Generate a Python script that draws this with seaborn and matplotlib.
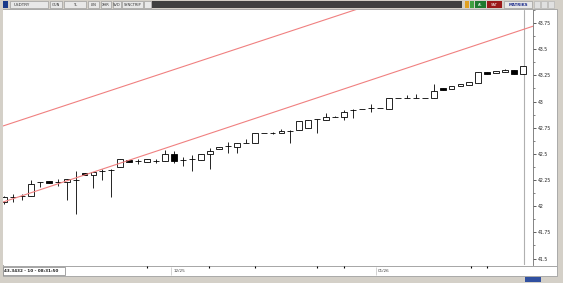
import numpy as np
import pandas as pd
import matplotlib
matplotlib.use("Agg")
import matplotlib.pyplot as plt
import matplotlib.patches as mpatches
import seaborn as sns

# ---------------- data ----------------
symbol = "USDTRY"
last_info = "43.3432 - 10 - 08:31:50"
opens = [42.04, 42.09, 42.10, 42.10, 42.23, 42.24, 42.23, 42.23, 42.25, 42.32,
         42.30, 42.34, 42.35, 42.37, 42.44, 42.43, 42.42, 42.43, 42.43, 42.50,
         42.44, 42.45, 42.44, 42.50, 42.55, 42.58, 42.57, 42.60, 42.60, 42.70,
         42.70, 42.70, 42.72, 42.73, 42.75, 42.83, 42.82, 42.85, 42.85, 42.92,
         42.93, 42.94, 42.94, 42.93, 43.03, 43.03, 43.03, 43.03, 43.03, 43.13,
         43.12, 43.15, 43.16, 43.18, 43.28, 43.27, 43.28, 43.30, 43.26]
closes = [42.09, 42.09, 42.10, 42.21, 42.23, 42.22, 42.23, 42.26, 42.25, 42.30,
          42.33, 42.34, 42.35, 42.45, 42.42, 42.43, 42.45, 42.43, 42.50, 42.43,
          42.44, 42.45, 42.50, 42.53, 42.57, 42.58, 42.60, 42.60, 42.70, 42.70,
          42.70, 42.72, 42.72, 42.81, 42.82, 42.83, 42.85, 42.85, 42.90, 42.92,
          42.93, 42.94, 42.94, 43.03, 43.03, 43.03, 43.03, 43.03, 43.10, 43.11,
          43.15, 43.17, 43.19, 43.28, 43.26, 43.29, 43.30, 43.26, 43.3432]
highs = [42.10, 42.12, 42.12, 42.25, 42.23, 42.24, 42.26, 42.26, 42.34, 42.32,
         42.33, 42.36, 42.36, 42.45, 42.44, 42.45, 42.45, 42.45, 42.54, 42.53,
         42.47, 42.49, 42.50, 42.56, 42.57, 42.61, 42.60, 42.64, 42.70, 42.70,
         42.71, 42.74, 42.73, 42.81, 42.82, 42.83, 42.89, 42.86, 42.92, 42.93,
         42.93, 42.98, 42.94, 43.03, 43.03, 43.06, 43.07, 43.03, 43.17, 43.13,
         43.15, 43.17, 43.19, 43.28, 43.28, 43.29, 43.31, 43.30, 43.3432]
lows = [42.02, 42.04, 42.06, 42.10, 42.18, 42.22, 42.19, 42.06, 41.93, 42.30,
        42.17, 42.25, 42.09, 42.37, 42.42, 42.40, 42.42, 42.41, 42.43, 42.41,
        42.38, 42.34, 42.44, 42.36, 42.55, 42.51, 42.51, 42.60, 42.60, 42.70,
        42.69, 42.70, 42.60, 42.73, 42.75, 42.70, 42.82, 42.85, 42.82, 42.84,
        42.93, 42.90, 42.94, 42.93, 43.03, 43.03, 43.03, 43.03, 43.03, 43.11,
        43.12, 43.15, 43.16, 43.18, 43.26, 43.27, 43.28, 43.26, 43.26]

# channel trend lines (candle index, price)
trend_idx = [-0.45, 59.1]
lower_trend = [42.03, 43.72]
upper_trend = [42.757, 44.437]

y_ticks = [41.5, 41.75, 42.0, 42.25, 42.5, 42.75, 43.0, 43.25, 43.5, 43.75]
y_tick_labels = ["41.5", "41.75", "42", "42.25", "42.5", "42.75", "43", "43.25", "43.5", "43.75"]

date_marks = [16.0, 22.9, 28.0, 35.0, 38.0, 52.2, 54.0]
date_labels = ["12/25", "01/26"]
date_label_pos = [18.9, 41.8]

toolbar_items = ["GUN", "TL", "LIN", "XHR", "SVD", "SYNCTRIP"]

# ---------------- figure ----------------
W, H = 563, 283
sns.set_style("white")
plt.rcParams["font.family"] = ["DejaVu Sans"]
fig = plt.figure(figsize=(W / 100, H / 100), dpi=100, facecolor="#d4d0c8")

def fx(px):
    return px / W

def fy(py):
    return 1 - py / H

def frect(x0, y0, x1, y1, z=-1, **kw):
    fig.patches.append(mpatches.Rectangle((fx(x0), fy(y1)), fx(x1 - x0), (y1 - y0) / H,
                                          transform=fig.transFigure, figure=fig, zorder=z, **kw))

# white panels
frect(3, 9, 557, 266, facecolor="white", edgecolor="#a0a0a0", linewidth=0.6, z=-5)
frect(3, 266, 557, 276, facecolor="white", edgecolor="#a0a0a0", linewidth=0.6, z=-5)

# top toolbar
frect(0, 0, 563, 9, facecolor="#d4d0c8", edgecolor="none")
frect(152, 1, 462, 8, facecolor="#404040", edgecolor="none")
frect(3, 1, 8, 8, facecolor="#1a3a8a", edgecolor="none")
frect(10, 1, 48, 8, facecolor="#e8e8e8", edgecolor="#909090", linewidth=0.4)
fig.text(fx(14), fy(4.7), symbol, fontsize=3, color="#303030", va="center", ha="left")
tb_x = [50, 64, 88, 101, 113, 122]
tb_w = [12, 22, 11, 10, 8, 21]
for t, xx, ww in zip(toolbar_items, tb_x, tb_w):
    frect(xx, 1, xx + ww, 8, facecolor="#e8e8e8", edgecolor="#909090", linewidth=0.4)
    fig.text(fx(xx + ww / 2), fy(4.7), t, fontsize=2.6, color="#303030", va="center", ha="center")
frect(144, 1, 151, 8, facecolor="#e8e8e8", edgecolor="#909090", linewidth=0.4)
frect(465, 1, 469, 8, facecolor="#e0a020", edgecolor="none")
frect(470, 1, 474, 8, facecolor="#40a040", edgecolor="none")
frect(475, 1, 486, 8, facecolor="#1e7a2e", edgecolor="none")
fig.text(fx(480.5), fy(4.7), "AL", fontsize=2.6, color="white", va="center", ha="center")
frect(487, 1, 502, 8, facecolor="#9a1a1a", edgecolor="none")
fig.text(fx(494.5), fy(4.7), "SAT", fontsize=2.6, color="white", va="center", ha="center")
frect(504, 1, 532, 8, facecolor="#e8e8e8", edgecolor="#909090", linewidth=0.4)
fig.text(fx(518), fy(4.7), "MATRIKS", fontsize=2.8, color="#1a2a8a", va="center", ha="center",
         fontweight="bold")
for xx in [534, 541, 548]:
    frect(xx, 1, xx + 6, 8, facecolor="#e0e0e0", edgecolor="#b0b0b0", linewidth=0.4)

# bottom decorations
frect(3, 266.5, 65, 274.5, facecolor="white", edgecolor="#808080", linewidth=0.5)
fig.text(fx(4), fy(270.5), last_info, fontsize=3, color="#202020", va="center", ha="left",
         fontweight="bold")
frect(525, 277, 541, 282, facecolor="#3050a0", edgecolor="none")

# ---------------- main axes ----------------
ax = fig.add_axes([fx(3), fy(265), fx(530), (265 - 10) / H])
ax.set_facecolor("white")

df = pd.DataFrame({"open": opens, "high": highs, "low": lows, "close": closes})
df["idx"] = np.arange(len(df))
up = df["close"] >= df["open"]

# wicks
ax.vlines(df["idx"], df["low"], df["high"], color="black", linewidth=0.6, zorder=2)
# bodies
body_bottom = np.minimum(df["open"], df["close"])
body_h = np.abs(df["close"] - df["open"])
ax.bar(df["idx"][up], body_h[up], bottom=body_bottom[up], width=0.66,
       facecolor="white", edgecolor="black", linewidth=0.6, zorder=3)
ax.bar(df["idx"][~up], body_h[~up], bottom=body_bottom[~up], width=0.66,
       facecolor="black", edgecolor="black", linewidth=0.6, zorder=3)

# trend channel
tr = pd.DataFrame({"i": trend_idx * 2, "p": lower_trend + upper_trend,
                   "line": ["lower", "lower", "upper", "upper"]})
sns.lineplot(data=tr, x="i", y="p", units="line", estimator=None, color="#f08080",
             linewidth=0.8, ax=ax, zorder=4, legend=False)

# cursor line at last bar
ax.axvline(len(df) - 1 + 0.05, color="#b0b0b0", linewidth=0.8, zorder=1)

ax.set_xlim(-0.11, 59.1)
ax.set_ylim(41.438, 43.867)
ax.set_xlabel("")
ax.set_ylabel("")
ax.set_xticks([])
ax.yaxis.tick_right()
ax.set_yticks(y_ticks)
ax.set_yticklabels(y_tick_labels)
ax.set_yticks(np.arange(41.625, 43.9, 0.25), minor=True)
ax.tick_params(axis="y", which="major", length=2.5, width=0.5, labelsize=3.3, pad=1,
               colors="#202020", right=True, left=False)
ax.tick_params(axis="y", which="minor", length=1.5, width=0.4, right=True, left=False)
for s in ["top", "left", "bottom"]:
    ax.spines[s].set_visible(False)
ax.spines["right"].set_color("#707070")
ax.spines["right"].set_linewidth(0.6)

# ---------------- date strip ----------------
dax = fig.add_axes([fx(3), fy(276), fx(530), 10 / H])
dax.set_xlim(-0.11, 59.1)
dax.set_ylim(0, 1)
dax.axis("off")
dax.vlines(date_marks, 0.8, 1.0, color="black", linewidth=0.8)
for lab, pos in zip(date_labels, date_label_pos):
    dax.vlines([pos - 0.2], 0.1, 0.9, color="#c0c0c0", linewidth=0.5)
    dax.text(pos, 0.45, lab, fontsize=3, color="#404040", va="center", ha="left")

fig.savefig("out.png", dpi=100, facecolor=fig.get_facecolor())
